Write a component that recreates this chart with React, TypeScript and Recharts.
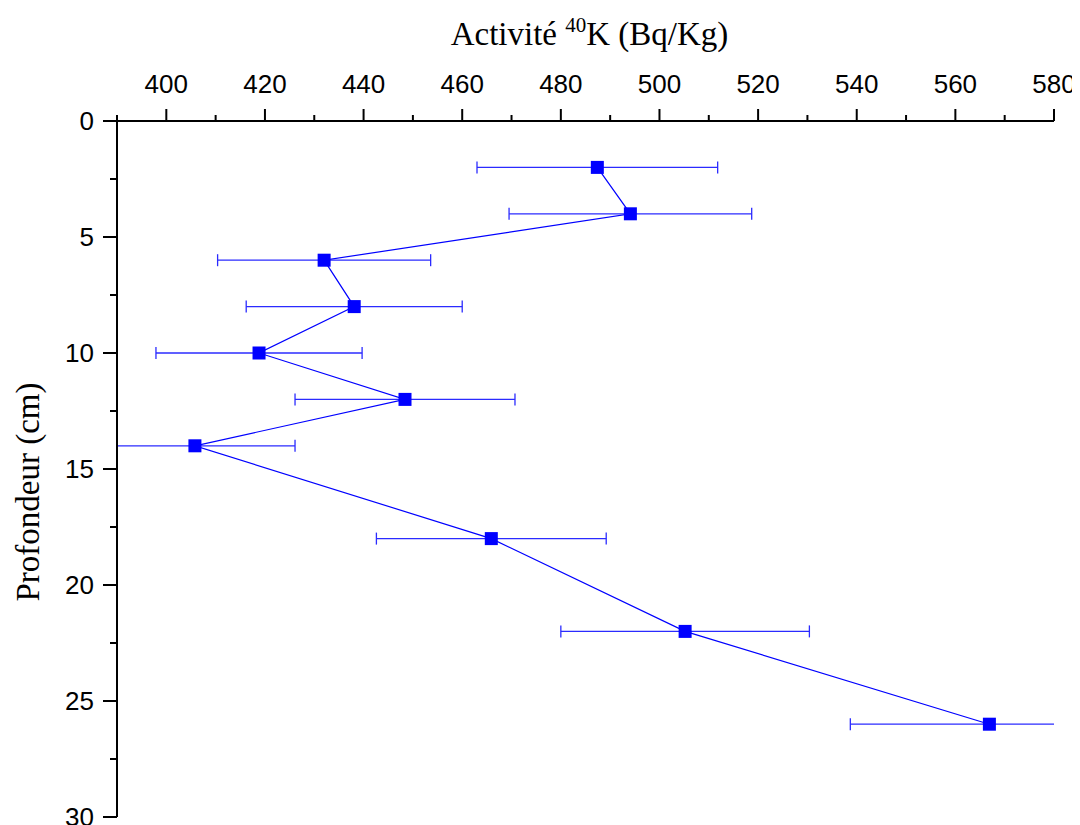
import { ScatterChart, Scatter, XAxis, YAxis, ErrorBar } from "recharts";

// profondeur (cm) vs activité 40K (Bq/Kg)
const depths = [2, 4, 6, 8, 10, 12, 14, 18, 22, 26];
const activity = [487.4, 494.1, 432.0, 438.1, 418.8, 448.4, 405.8, 465.9, 505.2, 566.9];
const errors = [24.4, 24.6, 21.6, 21.9, 20.9, 22.3, 20.3, 23.3, 25.2, 28.2];

const xTicks = [390, 400, 410, 420, 430, 440, 450, 460, 470, 480, 490, 500, 510, 520, 530, 540, 550, 560, 570, 580];
const yTicks = [0, 2.5, 5, 7.5, 10, 12.5, 15, 17.5, 20, 22.5, 25, 27.5, 30];

const data = depths.map((d, i) => ({ depth: d, k: activity[i], err: errors[i] }));

const sans = "'Liberation Sans', Arial, sans-serif";
const serif = "'Liberation Serif', 'Times New Roman', serif";

const W = 1072;
const H = 817;
const M = { top: 53, right: 26, bottom: 8, left: 49 };
const AXIS_H = 60;
const AXIS_W = 60;

const XTick = (props: any) => {
  const { x, y, payload } = props;
  const axisY = y + 28;
  const major = payload.value % 20 === 0;
  return (
    <g>
      <line x1={x} x2={x} y1={axisY} y2={axisY - (major ? 12 : 6)} stroke="#000" strokeWidth={2} />
      {major && (
        <text x={x} y={y} textAnchor="middle" fontFamily={sans} fontSize={26} fill="#000">
          {payload.value}
        </text>
      )}
    </g>
  );
};

const YTick = (props: any) => {
  const { x, y, payload } = props;
  const axisX = x + 23;
  const major = payload.value % 5 === 0;
  return (
    <g>
      <line x1={axisX} x2={axisX - (major ? 14 : 7)} y1={y} y2={y} stroke="#000" strokeWidth={2} />
      {major && (
        <text x={x} y={y} dy="0.35em" textAnchor="end" fontFamily={sans} fontSize={26} fill="#000">
          {payload.value}
        </text>
      )}
    </g>
  );
};

const XTitle = (props: any) => {
  const vb = props.viewBox;
  return (
    <text x={vb.x + vb.width / 2 + 4} y={vb.y - 16} textAnchor="middle" fontFamily={serif} fontSize={33} fill="#000">
      Activité <tspan dy={-13} fontSize={21}>40</tspan>
      <tspan dy={13}>K (Bq/Kg)</tspan>
    </text>
  );
};

const YTitle = (props: any) => {
  const vb = props.viewBox;
  const cx = vb.x - 18;
  const cy = vb.y + vb.height / 2 + 23;
  return (
    <text x={cx} y={cy} transform={`rotate(-90, ${cx}, ${cy})`} textAnchor="middle" fontFamily={serif} fontSize={33} fill="#000">
      Profondeur (cm)
    </text>
  );
};

const Square = (props: any) => {
  const { cx, cy } = props;
  return <rect x={cx - 6.5} y={cy - 6.5} width={13} height={13} fill="#0000ff" />;
};

// error bars are cut at the plot frame, like the original
const css = `
html, body { overflow: hidden; }
.recharts-surface { overflow: visible; }
.recharts-errorBars, .recharts-errorBar { clip-path: url(#plotClip); }
`;

export default function App() {
  const px = M.left + AXIS_W;
  const py = M.top + AXIS_H;
  return (
    <div style={{ width: W, height: H, background: "#fff" }}>
      <style>{css}</style>
      <svg width={0} height={0} style={{ position: "absolute" }}>
        <defs>
          <clipPath id="plotClip" clipPathUnits="userSpaceOnUse">
            <rect x={px} y={py} width={W - px - M.right} height={H - py - M.bottom} />
          </clipPath>
        </defs>
      </svg>
      <ScatterChart width={W} height={H} margin={M}>
        <XAxis
          type="number"
          dataKey="k"
          orientation="top"
          height={AXIS_H}
          domain={[390, 580]}
          allowDataOverflow
          ticks={xTicks}
          interval={0}
          tickSize={12}
          tickMargin={16}
          tickLine={false}
          tick={<XTick />}
          axisLine={{ stroke: "#000", strokeWidth: 2 }}
          label={{ content: <XTitle /> }}
        />
        <YAxis
          type="number"
          dataKey="depth"
          reversed
          width={AXIS_W}
          domain={[0, 30]}
          ticks={yTicks}
          interval={0}
          tickSize={13}
          tickMargin={10}
          tickLine={false}
          tick={<YTick />}
          axisLine={{ stroke: "#000", strokeWidth: 2 }}
          label={{ content: <YTitle /> }}
        />
        <Scatter
          data={data}
          fill="#0000ff"
          shape={<Square />}
          line={{ stroke: "#0000ff", strokeWidth: 1.2 }}
          lineType="joint"
          isAnimationActive={false}
        >
          <ErrorBar dataKey="err" direction="x" width={6} stroke="#2b2bff" strokeWidth={1.3} />
        </Scatter>
      </ScatterChart>
    </div>
  );
}
